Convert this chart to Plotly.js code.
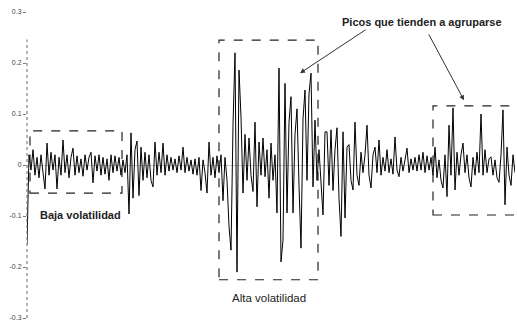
<!DOCTYPE html>
<html>
<head>
<meta charset="utf-8">
<script src="https://cdn.plot.ly/plotly-3.0.1.min.js"></script>
<style>html,body{margin:0;padding:0;background:#fff;}#chart{width:517px;height:323px;}</style>
</head>
<body>
<div id="chart"></div>
<script>
// Returns (one value per ~2 px column)
const returns = [
 -0.155, 0.02, -0.01, 0.03, -0.02, 0.015, -0.025, 0.02, -0.015, -0.047,
 0.043, -0.02, 0.025, -0.01, 0.02, -0.047, 0.015, -0.02, 0.049, -0.015,
 0.02, -0.025, 0.015, 0.033, -0.02, 0.018, -0.015, 0.012, -0.022, 0.02,
 -0.01, 0.015, 0.025, -0.035, 0.018, -0.012, 0.02, -0.02, 0.015, -0.018,
 0.012, -0.03, 0.02, -0.015, 0.018, -0.012, 0.015, -0.02,
 0.01, -0.015, 0.02, -0.096, 0.063, -0.065, 0.03, 0.047, -0.06, 0.035,
 -0.03, 0.025, -0.025, 0.02, -0.03, -0.043, 0.045, -0.02, 0.025, -0.015,
 0.043, -0.02, 0.02, -0.012, 0.015, -0.01, 0.012, -0.015, 0.018, -0.01,
 0.035, -0.015, 0.015, -0.012, 0.01, -0.018, 0.012, -0.02, 0.015, -0.05,
 0.01, -0.015, -0.055, 0.045, -0.02, 0.015, -0.025, 0.018, -0.015,
 0.02, -0.07, 0.015, -0.03, -0.12, -0.167, 0.078, 0.22, -0.21, 0.186,
 0.094, -0.055, 0.06, -0.03, 0.053, -0.02, -0.052, 0.084, -0.082, 0.045,
 -0.02, 0.053, -0.023, 0.03, -0.065, 0.043, -0.03, 0.02, -0.094, 0.19,
 -0.19, -0.147, 0.16, -0.094, 0.084, 0.134, -0.094, 0.06, 0.11, -0.04,
 -0.163, 0.09, 0.147, -0.03, 0.14, 0.18, -0.043, 0.088, -0.03,
 0.03, -0.03, -0.098, 0.065, 0.065, -0.04, 0.069, -0.05, 0.03, 0.073,
 -0.065, -0.14, 0.065, -0.104, 0.035, 0.04, -0.03, -0.049, 0.084, -0.02,
 -0.04, 0.025, -0.015, 0.02, 0.078, -0.02, -0.045, 0.02, 0.035, -0.015,
 0.049, -0.02, 0.015, -0.012, 0.03, -0.015, 0.012, -0.018, 0.055, -0.01,
 -0.023, 0.015, -0.012, 0.01, 0.033, -0.015, 0.012, -0.01, 0.015,
 -0.012, 0.02, -0.01, 0.025, -0.015, 0.018, -0.01, 0.015, -0.02, 0.035,
 -0.025, 0.01, -0.03, -0.045, 0.02, -0.062, 0.078, -0.02, 0.112, -0.049,
 0.025, -0.02, 0.02, 0.043, -0.015, 0.02, -0.025, -0.043, 0.015, -0.02,
 0.025, -0.015, 0.1, -0.02, 0.03, -0.015, 0.012, 0.016, -0.02, 0.01,
 -0.025, -0.034, 0.02, 0.108, -0.078, 0.035, -0.02, -0.04, 0.02, -0.015
];
const tickValues = [0.3, 0.2, 0.1, 0, -0.1, -0.2, -0.3];
const tickLabels = ["0.3", "0.2", "0.1", "0", "-0.1", "-0.2", "-0.3"];
const labelPicos = "Picos que tienden a agruparse";
const labelBaja = "Baja volatilidad";
const labelAlta = "Alta volatilidad";

const t = returns.map((_, i) => i);
const n = returns.length - 1;

const trace = {
  x: t, y: returns, type: 'scatter', mode: 'lines',
  line: {color: '#000', width: 1},
  hoverinfo: 'skip'
};

const boxLine = {color: '#222', width: 1.2, dash: 'dash'};
const shapes = [
  {type: 'line', xref: 'paper', yref: 'paper', x0: 0, x1: 0, y0: 0, y1: 0.91,
   line: {color: '#666', width: 1, dash: 'dot'}},
  {type: 'rect', xref: 'x', yref: 'y', x0: 1.5, x1: 47.5, y0: -0.055, y1: 0.067, line: boxLine},
  {type: 'rect', xref: 'x', yref: 'y', x0: 96, x1: 145.5, y0: -0.225, y1: 0.245, line: boxLine},
  {type: 'rect', xref: 'x', yref: 'y', x0: 203, x1: 244.3, y0: -0.098, y1: 0.116, line: boxLine}
];

const font = {family: 'Liberation Sans, Arial, sans-serif', color: '#222'};
const annotations = [
  {x: 197.5, y: 0.28, xref: 'x', yref: 'y', text: '<b>' + labelPicos + '</b>', showarrow: false,
   font: Object.assign({size: 11}, font)},
  {x: 26.5, y: -0.098, xref: 'x', yref: 'y', text: '<b>' + labelBaja + '</b>', showarrow: false,
   font: Object.assign({size: 11}, font)},
  {x: 121, y: -0.26, xref: 'x', yref: 'y', text: labelAlta, showarrow: false,
   font: Object.assign({size: 11.5}, font)},
  {x: 136.5, y: 0.18, xref: 'x', yref: 'y', ax: 170, ay: 0.267, axref: 'x', ayref: 'y',
   showarrow: true, arrowhead: 2, arrowsize: 1, arrowwidth: 1, arrowcolor: '#333', text: ''},
  {x: 218.5, y: 0.127, xref: 'x', yref: 'y', ax: 200.5, ay: 0.259, axref: 'x', ayref: 'y',
   showarrow: true, arrowhead: 2, arrowsize: 1, arrowwidth: 1, arrowcolor: '#333', text: ''}
];

const layout = {
  width: 517, height: 323,
  margin: {l: 27, r: 2, t: 12, b: 5},
  paper_bgcolor: '#fff', plot_bgcolor: '#fff',
  showlegend: false,
  xaxis: {range: [0, n], visible: false, showgrid: false, zeroline: false},
  yaxis: {
    range: [-0.3, 0.3], tickvals: tickValues, ticktext: tickLabels,
    ticks: 'outside', ticklen: 3, tickcolor: '#777', tickwidth: 1,
    showgrid: false, showline: false,
    zeroline: true, zerolinecolor: '#aaa', zerolinewidth: 0.6,
    tickfont: {family: 'Liberation Sans, Arial, sans-serif', size: 7, color: '#444'}
  },
  shapes: shapes,
  annotations: annotations
};

Plotly.newPlot('chart', [trace], layout, {displayModeBar: false, staticPlot: true});
</script>
</body>
</html>
